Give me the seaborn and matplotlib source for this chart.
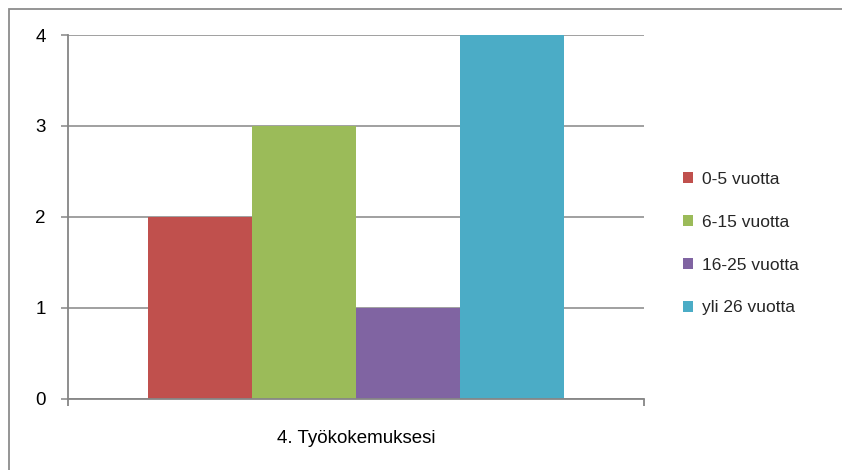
import matplotlib
matplotlib.use("Agg")
import matplotlib.pyplot as plt
from matplotlib.patches import Rectangle
import seaborn as sns
import pandas as pd

# Survey question and answer groups
category = "4. Työkokemuksesi"
series = ["0-5 vuotta", "6-15 vuotta", "16-25 vuotta", "yli 26 vuotta"]
counts = [2, 3, 1, 4]
colors = ["#C0504D", "#9BBB59", "#8064A2", "#4BACC6"]
y_ticks = [0, 1, 2, 3, 4]

df = pd.DataFrame({"kysymys": [category] * len(series), "ryhmä": series, "määrä": counts})

sns.set_theme(style="white")
plt.rcParams["font.family"] = ["Liberation Sans", "DejaVu Sans"]

W, H = 842, 470
fig = plt.figure(figsize=(W / 100, H / 100), dpi=100)
fig.patch.set_facecolor("white")

# plot area in pixel coordinates
left, right, top, bottom = 68, 644, 35, 398.5
ax = fig.add_axes([left / W, 1 - bottom / H, (right - left) / W, (bottom - top) / H])

sns.barplot(data=df, x="kysymys", y="määrä", hue="ryhmä", hue_order=series,
            palette=colors, width=416 / 576, saturation=1, ax=ax,
            edgecolor="none", linewidth=0, legend=True)

ax.set_xlim(-0.5, 0.5)
ax.set_ylim(0, 4)
ax.set_yticks(y_ticks)
ax.set_yticklabels([str(v) for v in y_ticks])

grid_c = "#868686"
ax.grid(axis="y", color=grid_c, linewidth=1.1)
ax.set_axisbelow(True)

for s in ["top", "right"]:
    ax.spines[s].set_visible(False)
for s in ["left", "bottom"]:
    ax.spines[s].set_color(grid_c)
    ax.spines[s].set_linewidth(1.3)
    ax.spines[s].set_zorder(3)

ax.tick_params(axis="y", which="major", direction="out", length=5, width=1.1,
               color=grid_c, left=True, pad=11, labelsize=13.5, labelcolor="#000000")
ax.tick_params(axis="x", which="major", length=0, pad=23, labelsize=13.5,
               labelcolor="#000000", bottom=True)
ax.set_xticks([-0.5, 0.5], minor=True)
ax.tick_params(axis="x", which="minor", direction="out", length=5, width=1.3,
               color=grid_c, bottom=True)
ax.set_xlabel("")
ax.set_ylabel("")

leg = ax.legend(loc="upper left", bbox_to_anchor=(683 / W, 1 - 172 / H),
                bbox_transform=fig.transFigure, frameon=False, fontsize=12.5,
                handlelength=0.6, handleheight=0.6, handletextpad=0.5,
                labelspacing=1.6, borderpad=0, borderaxespad=0)

# outer chart frame
fig.add_artist(Rectangle((9 / W, -0.1), 1.2, 1 - 9 / H + 0.1, transform=fig.transFigure,
                         fill=False, edgecolor="#8c8c8c", linewidth=1.3))

fig.savefig("out.png", dpi=100, facecolor="white")
